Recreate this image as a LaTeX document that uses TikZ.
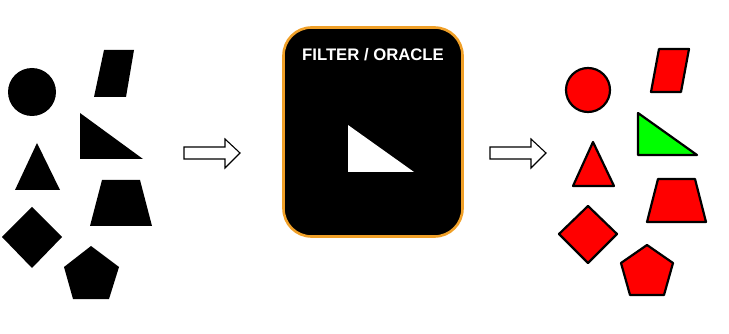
\documentclass[tikz,border=0pt]{standalone}
\usepackage{fontspec}
\setmainfont{Liberation Sans}
\begin{document}
\begin{tikzpicture}[x=1pt,y=-1pt,
  blk/.style={fill=black},
  red/.style={fill=red,draw=black,line width=2.2pt,line join=round},
  grn/.style={fill=green,draw=black,line width=2.2pt,line join=round},
  hollow/.style={draw=black,fill=white,line width=1.1pt,line join=miter}]
\useasboundingbox (0,0) rectangle (729,334);
% left group
\fill[blk] (32,92) circle (24);
\fill[blk] (104,50) -- (134,50) -- (126,97) -- (94,97) -- cycle;
\fill[blk] (80,113) -- (143,159) -- (80,159) -- cycle;
\fill[blk] (37,143) -- (60,190) -- (15,190) -- cycle;
\fill[blk] (102,180) -- (140,180) -- (152,226) -- (90,226) -- cycle;
\fill[blk] (32,207) -- (62,237) -- (32,268) -- (2,237) -- cycle;
\fill[blk] (91,246) -- (119,267) -- (109,299) -- (73,299) -- (64,267) -- cycle;
% arrows
\draw[hollow] (184,147) -- (225,147) -- (225,139) -- (240,153) -- (225,168) -- (225,159) -- (184,159) -- cycle;
\draw[hollow] (490,147) -- (531,147) -- (531,139) -- (546,153) -- (531,168) -- (531,159) -- (490,159) -- cycle;
% box
\node[draw={rgb,255:red,240;green,160;blue,40},fill=black,line width=2.6pt,rounded corners=28pt,
  minimum width=179pt,minimum height=209pt,inner sep=0pt] (box) at (373,132) {};
\node[text=white,font=\fontsize{16.7}{20}\selectfont\bfseries] (lbl) at (373,55) {FILTER / ORACLE};
\fill[white] (348,125) -- (414,172) -- (348,172) -- cycle;
% right group
\draw[red] (588,90) circle (22);
\draw[red] (659,49) -- (689,49) -- (681,92) -- (651,92) -- cycle;
\draw[grn] (638,113) -- (697,155) -- (638,155) -- cycle;
\draw[red] (593,142) -- (614,186) -- (573,186) -- cycle;
\draw[red] (658,179) -- (695,179) -- (706,222) -- (647,222) -- cycle;
\draw[red] (588,206) -- (617,234) -- (588,263) -- (559,234) -- cycle;
\draw[red] (647,245) -- (673,263) -- (664,295) -- (630,295) -- (621,263) -- cycle;
\end{tikzpicture}
\end{document}
